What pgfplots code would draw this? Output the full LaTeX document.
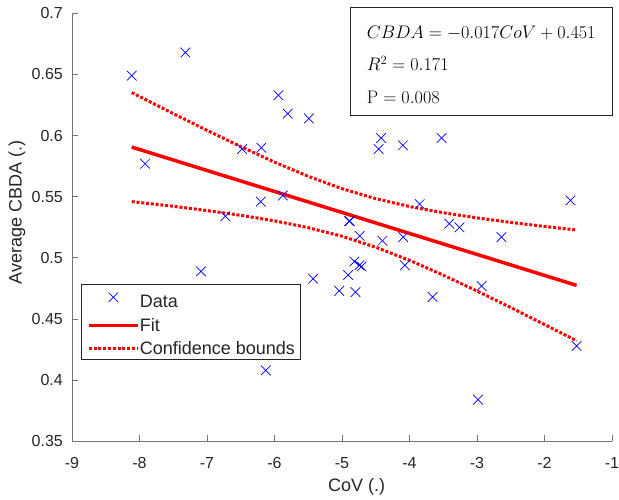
\documentclass[border=0pt]{standalone}
\usepackage{graphicx}
\usepackage{pgfplots}
\pgfplotsset{compat=1.18}
\usepackage[no-math]{fontspec}
\setmainfont{Liberation Sans}
\definecolor{axgray}{RGB}{38,38,38}
\definecolor{mblue}{RGB}{0,0,255}
\definecolor{mred}{RGB}{255,0,0}
\pgfplotsset{
  markleg/.style={legend image code/.code={\draw[##1, only marks, mark repeat=2, mark phase=2] plot coordinates {(0pt,1.4pt) (24.65pt,1.4pt) (49.3pt,1.4pt)};}},
  lineleg/.style={legend image code/.code={\draw[##1] (0pt,-3.5pt) -- (49.3pt,-3.5pt);}},
}
\newcommand{\eqtxt}[1]{\scalebox{1.05}{\fontsize{17.28}{21}\selectfont #1}}
\begin{document}
\begin{tikzpicture}
\useasboundingbox (-72pt,-57.7pt) rectangle (547pt,441.3pt);
\begin{axis}[
  scale only axis, width=540pt, height=428pt,
  xmin=-9, xmax=-1, ymin=0.35, ymax=0.7,
  xtick={-9,-8,-7,-6,-5,-4,-3,-2,-1},
  ytick={0.35,0.4,0.45,0.5,0.55,0.6,0.65,0.7},
  yticklabels={0.35,0.4,0.45,0.5,0.55,0.6,0.65,0.7},
  axis x line*=bottom, axis y line*=left,
  axis line style={black!55, line width=0.8pt},
  tick style={black!55, line width=0.8pt},
  tick align=inside, major tick length=6pt,
  /pgf/number format/assume math mode=true,
  ticklabel style={font=\fontsize{16}{19}\selectfont, text=axgray},
  xticklabel style={anchor=north, inner sep=0pt, yshift=-15.5pt},
  yticklabel style={anchor=east, inner sep=0pt, xshift=-9pt},
  xlabel={CoV (.)}, ylabel={Average CBDA (.)},
  label style={font=\fontsize{18}{21}\selectfont, text=axgray},
  xlabel style={at={(axis description cs:0.527,-0.1061)}, anchor=center},
  ylabel style={at={(axis description cs:-0.1019,0.5346)}, anchor=center},
  legend style={at={(axis description cs:0.0172,0.3668)}, anchor=north west,
    draw=axgray, line width=0.6pt, fill=white, text=axgray,
    font=\fontsize{18}{21}\selectfont,
    inner xsep=5.4pt, inner ysep=2.5pt, row sep=0pt,
    nodes={inner sep=0pt, text height=20.85pt, text depth=2.45pt},
    /tikz/every even column/.append style={column sep=4pt}},
  legend cell align=left,
]
\addplot[only marks, mark=x, mark size=6.8pt, color=mblue, line width=0.7pt, markleg]
coordinates {
(-8.115,0.649) (-7.320,0.668) (-5.942,0.633) (-5.803,0.618) (-7.918,0.577)
(-6.480,0.589) (-6.194,0.590) (-6.203,0.546) (-5.877,0.551) (-6.728,0.534)
(-7.088,0.489) (-5.428,0.483) (-5.042,0.473) (-4.909,0.486) (-6.129,0.408)
(-5.491,0.614) (-4.420,0.598) (-4.457,0.589) (-4.098,0.592) (-3.523,0.598)
(-3.849,0.544) (-4.894,0.530) (-4.885,0.530) (-3.412,0.528) (-3.259,0.525)
(-4.738,0.518) (-4.400,0.514) (-4.093,0.517) (-2.638,0.517) (-4.817,0.497)
(-4.743,0.494) (-4.709,0.493) (-4.068,0.494) (-4.800,0.472) (-3.659,0.468)
(-2.930,0.477) (-1.615,0.547) (-1.524,0.428) (-2.985,0.384)
};
\addlegendentry{Data}
\addplot[color=mred, line width=3.5pt, lineleg]
coordinates {(-8.115,0.5906) (-1.524,0.4775)};
\addlegendentry{Fit}
\addplot[color=mred, line width=3pt, dash pattern=on 3pt off 1.8pt, lineleg]
coordinates {
(-8.115,0.6352) (-7.5,0.6180) (-7,0.6043) (-6.5,0.5910) (-6,0.5783) (-5.5,0.5667)
(-5,0.5566) (-4.5,0.5484) (-4,0.5420) (-3.5,0.5369) (-3,0.5327) (-2.5,0.5290)
(-2,0.5257) (-1.524,0.5228)
};
\addlegendentry{Confidence bounds}
\addplot[color=mred, line width=3pt, dash pattern=on 3pt off 1.8pt, forget plot]
coordinates {
(-8.115,0.5460) (-7.5,0.5422) (-7,0.5387) (-6.5,0.5348) (-6,0.5303) (-5.5,0.5247)
(-5,0.5177) (-4.5,0.5087) (-4,0.4980) (-3.5,0.4859) (-3,0.4729) (-2.5,0.4594)
(-2,0.4455) (-1.524,0.4322)
};
\end{axis}
\draw[axgray, line width=0.6pt, fill=white] (278.7pt,325.6pt) rectangle (540.7pt,434pt);
\node[anchor=base west, inner sep=0pt] at (294.7pt,403pt) {\eqtxt{$CBDA = -0.017CoV + 0.451$}};
\node[anchor=base west, inner sep=0pt] at (294.7pt,370.3pt) {\eqtxt{$R^2 = 0.171$}};
\node[anchor=base west, inner sep=0pt] at (294.7pt,338pt) {\eqtxt{$\mathrm{P} = 0.008$}};
\end{tikzpicture}
\end{document}
